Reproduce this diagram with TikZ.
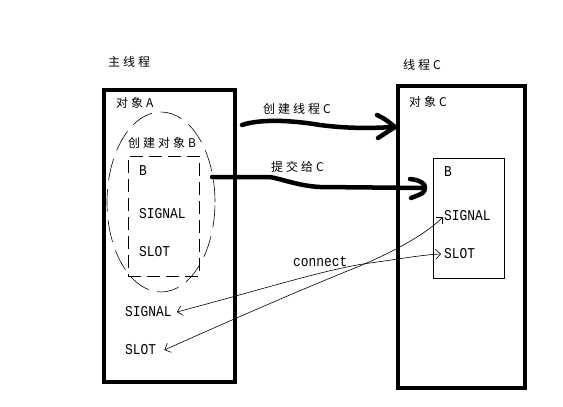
\documentclass[tikz,border=0pt]{standalone}
\usepackage{fontspec}
\setmainfont{Liberation Mono}
\newfontfamily\lat[FakeStretch=0.86]{Liberation Mono}
\newfontfamily\cjk[LetterSpace=25]{Noto Sans CJK SC}
\usetikzlibrary{arrows.meta,shapes.geometric}
\begin{document}
\begin{tikzpicture}[x=1pt,y=-1pt,
  thread/.style={draw, line width=4.5pt, inner sep=0pt},
  objbox/.style={draw, line width=0.6pt, inner sep=0pt},
  lbl/.style={anchor=west, inner sep=0pt, font=\fontsize{15}{15}\lat},
  clbl/.style={anchor=west, inner sep=0pt, font=\fontsize{12}{12}\cjk},
  fat/.style={line width=4.5pt, line cap=round, line join=round},
  thinarrow/.style={line width=0.6pt, {Straight Barb[length=5pt,width=10pt]}-{Straight Barb[length=5pt,width=10pt]}}
]
\useasboundingbox (0,0) rectangle (563,407);
\fill[white] (0,0) rectangle (563,407);

% thread boxes
\node[thread, minimum width=131pt, minimum height=292pt] (A) at (169.5,236) {};
\node[thread, minimum width=127pt, minimum height=302pt] (C) at (461.5,237) {};

% object B inside main thread
\node[ellipse, draw, line width=0.6pt, dash pattern=on 22pt off 9pt, minimum width=108pt, minimum height=180pt, inner sep=0pt] (E) at (161,202) {};
\node[objbox, dash pattern=on 13pt off 6pt, minimum width=71pt, minimum height=120pt] (Bd) at (163.5,216) {};

% object B in thread C
\node[objbox, minimum width=71pt, minimum height=120pt] (Bc) at (468.5,218) {};

% labels
\node[clbl] (tmain) at (108,62) {主线程};
\node[clbl] (tC) at (403,65) {线程C};
\node[clbl] (oA) at (116,103) {对象A};
\node[clbl] (cB) at (128,143) {创建对象B};
\node[clbl] (oC) at (409,102) {对象C};
\node[clbl] (l1) at (263,109) {创建线程C};
\node[clbl] (l2) at (271,167) {提交给C};

\node[lbl] (bd) at (139,171) {B};
\node[lbl] (sigd) at (139,214) {SIGNAL};
\node[lbl] (slotd) at (139,252) {SLOT};
\node[lbl] (sigA) at (125,312) {SIGNAL};
\node[lbl] (slotA) at (125,350) {SLOT};
\node[lbl] (bc) at (444,172) {B};
\node[lbl] (sigC) at (444,216) {SIGNAL};
\node[lbl] (slotC) at (444,254) {SLOT};
\node[lbl] (conn) at (293,262) {connect};

% thick hand-drawn arrows
\coordinate (a1s) at (242,125);
\coordinate (a1e) at (395,127);
\draw[fat] (a1s) .. controls (260,119) and (290,120) .. (320,125) .. controls (350,129) and (375,128) .. (a1e);
\draw[fat] (377,115) .. controls (385,119) .. (a1e) -- (378,138);

\coordinate (a2s) at (212,177);
\coordinate (a2e) at (425,188);
\draw[fat] (a2s) -- (270,177) .. controls (285,180) and (300,186) .. (320,187) -- (a2e);
\draw[fat] (410,179) .. controls (420,180) and (426,184) .. (a2e) .. controls (424,193) .. (411,198);

% thin connect curves
\draw[thinarrow] ([xshift=5pt]sigA.east) .. controls (260,290) and (330,268) .. (370,263) .. controls (400,259) and (420,255) .. ([xshift=-3pt]slotC.west);
\draw[thinarrow] ([xshift=8pt]slotA.east) .. controls (220,325) and (300,290) .. (350,270) .. controls (390,254) and (425,235) .. ([xshift=-1pt,yshift=-1pt]sigC.west);
\end{tikzpicture}
\end{document}
